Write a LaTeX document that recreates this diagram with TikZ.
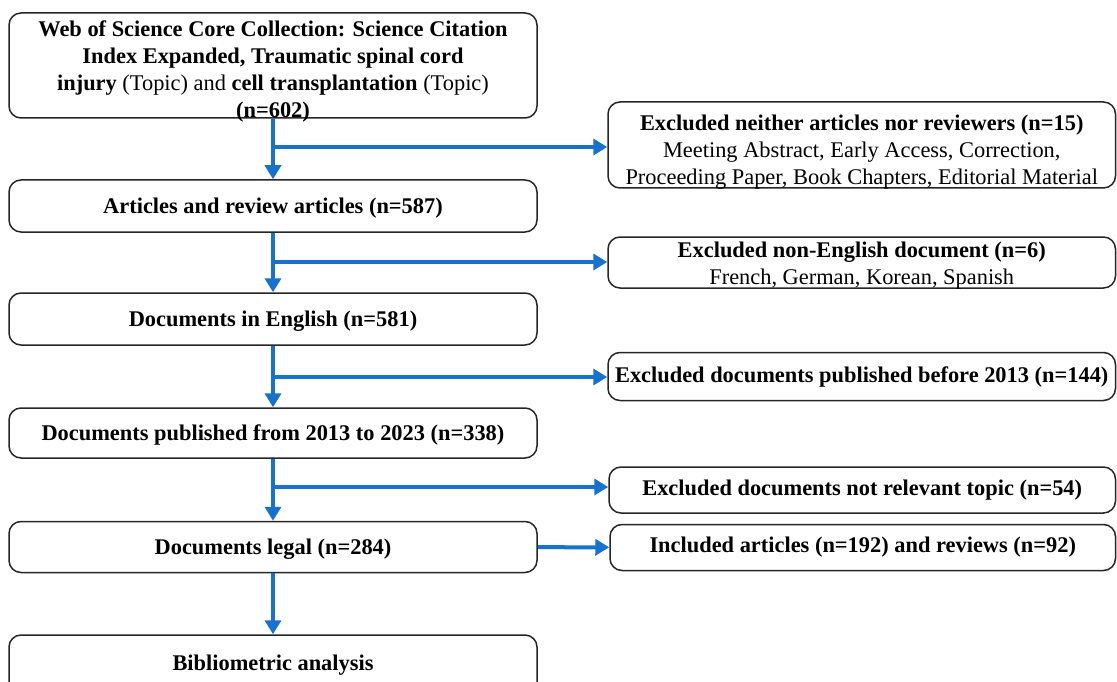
\documentclass[tikz,border=0pt]{standalone}
\usepackage{fontspec}
\setmainfont{Liberation Serif}
\usepackage{xcolor}
\usetikzlibrary{arrows.meta}

\definecolor{flowblue}{RGB}{22,114,206}
\newcommand{\topgap}[1]{\rule{0pt}{#1}}

\tikzset{
	box/.style={draw=black!85, line width=1.5pt, rounded corners=12pt, inner sep=0pt,
		align=center, font=\fontsize{22.4}{27}\selectfont},
	mainbox/.style={box, minimum width=528pt},
	sidebox/.style={box, font=\fontsize{22.4}{27}\selectfont\bfseries},
	boxtext/.style={inner sep=0pt, align=center, font=\fontsize{22.4}{27}\selectfont},
	arr/.style={draw=flowblue, line width=4pt, -{Triangle[length=14pt,width=16pt]}}
}

\begin{document}
\begin{tikzpicture}[x=1pt,y=-1pt]
	\useasboundingbox[fill=white] (0,0) rectangle (1117,682);
	
	% main column
	\node[mainbox, minimum height=105pt] (src) at (273,65.5) {};
	\node[boxtext] (srctext) at ([yshift=-5.5pt]src.center) {\textbf{Web of Science Core Collection: Science Citation}\\
		\textbf{Index Expanded, Traumatic spinal cord}\\
		\textbf{injury} (Topic) and \textbf{cell transplantation} (Topic)\\
		\textbf{(n=602)}};
	\node[mainbox, minimum height=52pt, font=\fontsize{22.4}{27}\selectfont\bfseries] (art) at (273,206) {\topgap{19pt}Articles and review articles (n=587)};
	\node[mainbox, minimum height=52pt, font=\fontsize{22.4}{27}\selectfont\bfseries] (eng) at (273,319) {\topgap{19pt}Documents in English (n=581)};
	\node[mainbox, minimum height=50pt, font=\fontsize{22.4}{27}\selectfont\bfseries] (pub) at (273,433) {\topgap{19pt}Documents published from 2013 to 2023 (n=338)};
	\node[mainbox, minimum height=51pt, font=\fontsize{22.4}{27}\selectfont\bfseries] (leg) at (273,547) {\topgap{19pt}Documents legal (n=284)};
	\node[mainbox, minimum height=60pt, font=\fontsize{22.4}{27}\selectfont\bfseries] (bib) at (273,665) {Bibliometric analysis};
	
	% excluded / included
	\node[box, minimum width=507.5pt, minimum height=86pt] (ex1) at (861.75,145) {};
	\node[boxtext] (ex1text) at ([yshift=-7pt]ex1.center) {\textbf{Excluded neither articles nor reviewers (n=15)}\\
		Meeting Abstract, Early Access, Correction,\\
		Proceeding Paper, Book Chapters, Editorial Material};
	\node[box, minimum width=507.5pt, minimum height=51pt] (ex2) at (861.75,262.5) {};
	\node[boxtext] (ex2text) at ([yshift=-3.5pt]ex2.center) {\textbf{Excluded non-English document (n=6)}\\
		French, German, Korean, Spanish};
	\node[sidebox, minimum width=507.5pt, minimum height=48pt] (ex3) at (861.75,376.5) {Excluded documents published before 2013 (n=144)};
	\node[sidebox, minimum width=506.5pt, minimum height=46pt] (ex4) at (862.25,490) {Excluded documents not relevant topic (n=54)};
	\node[sidebox, minimum width=505.5pt, minimum height=46pt] (inc) at (862.75,547.5) {Included articles (n=192) and reviews (n=92)};
	
	\coordinate (c1) at (273,147);
	\coordinate (c2) at (273,262);
	\coordinate (c3) at (273,377);
	\coordinate (c4) at (273,487);
	
	\draw[arr] (src) -- (art);
	\draw[arr] (art) -- (eng);
	\draw[arr] (eng) -- (pub);
	\draw[arr] (pub) -- (leg);
	\draw[arr] (leg) -- (bib);
	
	\draw[arr] (c1) -- (c1 -| ex1.west);
	\draw[arr] (c2) -- (c2 -| ex2.west);
	\draw[arr] (c3) -- (c3 -| ex3.west);
	\draw[arr] (c4) -- (c4 -| ex4.west);
	\draw[arr] (leg) -- (inc);
\end{tikzpicture}
\end{document}
